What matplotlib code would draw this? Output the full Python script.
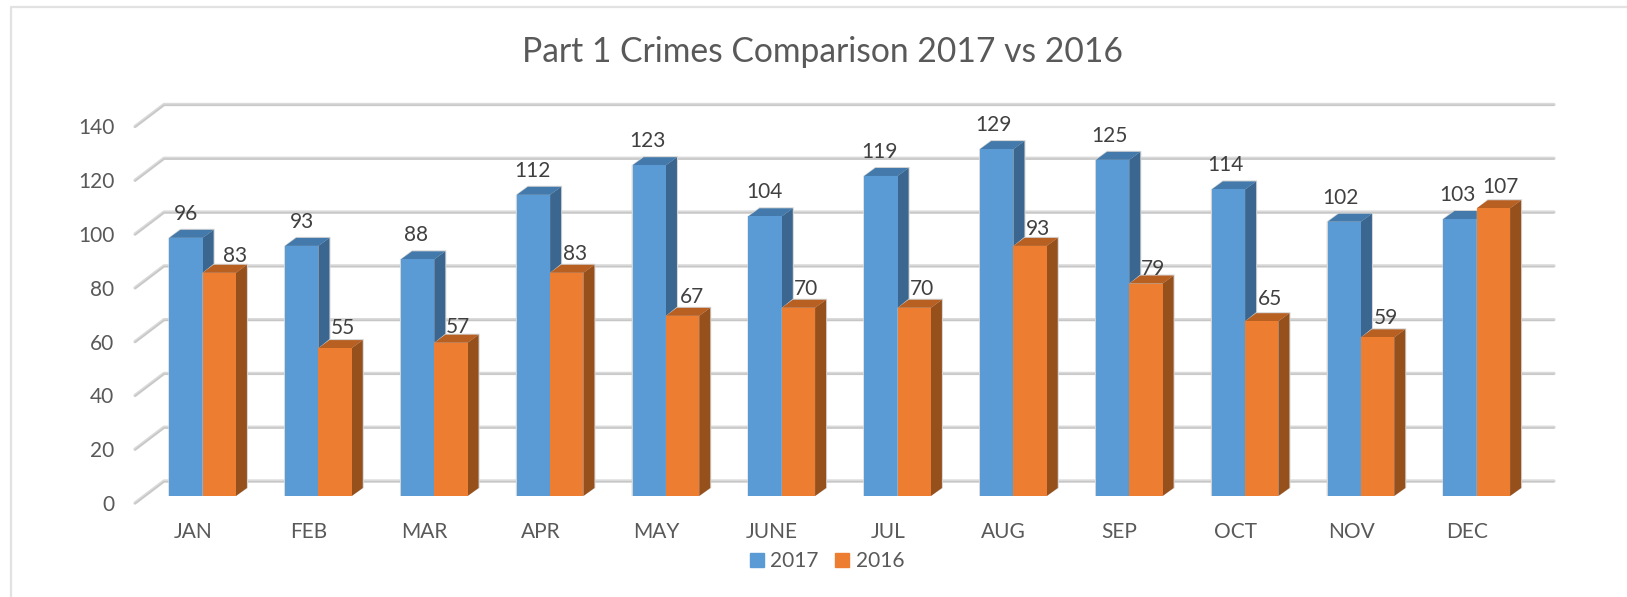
import matplotlib
matplotlib.use("Agg")
import matplotlib.pyplot as plt
from matplotlib.lines import Line2D
from matplotlib.patches import Patch, Polygon
from matplotlib.transforms import Affine2D

months = ["JAN", "FEB", "MAR", "APR", "MAY", "JUNE", "JUL", "AUG", "SEP", "OCT", "NOV", "DEC"]
values_2017 = [96, 93, 88, 112, 123, 104, 119, 129, 125, 114, 102, 103]
values_2016 = [83, 55, 57, 83, 67, 70, 70, 93, 79, 65, 59, 107]
y_ticks = [0, 20, 40, 60, 80, 100, 120, 140]

W, H = 1627, 597
plt.rcParams["font.family"] = ["Lato", "DejaVu Sans"]
fig = plt.figure(figsize=(W / 100, H / 100), dpi=100, facecolor="white")
L, R, B, T = 135, 1525, 503, 126.5
ax = fig.add_axes([L / W, 1 - B / H, (R - L) / W, (B - T) / H])
ax.set_xlim(-0.5, 11.5)
ax.set_ylim(0, 140)
ax.patch.set_visible(False)
ax.set_zorder(5)
for s in ax.spines.values():
    s.set_visible(False)

TXT = "#595959"
ax.set_xticks(range(len(months)), months)
ax.set_yticks(y_ticks)
ax.tick_params(axis="both", length=0, labelsize=15, labelcolor=TXT)
ax.tick_params(axis="x", pad=14)
ax.tick_params(axis="y", pad=15)

# gridlines: stub on the side wall, then along the back wall (two-tone)
BACK = (29, 22)
for v in y_ticks:
    x0, y0 = ax.transData.transform((-0.5, v))
    x1, _ = ax.transData.transform((11.5, v))
    xs = [x0, x0 + BACK[0], x1 + BACK[0]]
    ys = [y0, y0 + BACK[1], y0 + BACK[1]]
    fig.add_artist(Line2D(xs, ys, transform=None, color="#DADADA", lw=2.4,
                          solid_joinstyle="round", solid_capstyle="round", zorder=1))
    fig.add_artist(Line2D(xs, [y - 0.7 for y in ys], transform=None, color="#C6C6C6", lw=1.0,
                          solid_joinstyle="round", solid_capstyle="round", zorder=1.1))

# outer chart frame
fig.add_artist(Line2D([10.5, 10.5, W], [0, H - 6.5, H - 6.5], transform=None,
                      color="#E2E2E2", lw=1.6, zorder=0))

FRONT = (9.7, 7)      # front face offset from the axis plane, px
DEPTH = (11, 8)       # bar depth, px
HALO = 1.0            # soft shadow round each bar, px
BW = 0.2875
front_tr = ax.transData + Affine2D().translate(*FRONT)
inv = ax.transData.inverted()

for i, (a, b) in enumerate(zip(values_2017, values_2016)):
    for val, shift, front, top, side, z, left in (
            (a, -BW / 2, "#5B9BD5", "#437AAB", "#3A668F", 3 + i, HALO),
            (b, BW / 2, "#ED7D31", "#B85F22", "#96501C", 3.5 + i, 0)):
        (xl, yb), (xr, yt) = front_tr.transform([(i + shift - BW / 2, 0), (i + shift + BW / 2, val)])
        dx, dy = DEPTH
        sv = [(xr, yb), (xr + dx, yb + dy), (xr + dx, yt + dy), (xr, yt)]
        tv = [(xl, yt), (xl + dx, yt + dy), (xr + dx, yt + dy), (xr, yt)]
        hull = [(xl - left, yb), (xr, yb), (xr + dx + HALO, yb + dy), (xr + dx + HALO, yt + dy + HALO),
                (xl + dx, yt + dy + HALO), (xl - left, yt)]
        ax.add_patch(Polygon(inv.transform(hull), closed=True, facecolor="#D4D4D4", edgecolor="none",
                             zorder=z - 0.3, clip_on=False))
        ax.add_patch(Polygon(inv.transform(sv), closed=True, facecolor=side, edgecolor="none",
                             zorder=z - 0.2, clip_on=False))
        ax.add_patch(Polygon(inv.transform(tv), closed=True, facecolor=top, edgecolor="none",
                             zorder=z - 0.2, clip_on=False))
        ax.bar(i + shift, val, BW, color=front, transform=front_tr, zorder=z, clip_on=False)

# data labels, with the hand placement seen in the reference (px)
blue_nudge = [0, 0, -2, -1, -1.5, -1, -2, -3, -3, -3.5, -3.5, -3]
orange_nudge = [16, 7.5, 7, 8, 9, 8, 8, 8, 7, 8, 8, 7]
orange_rise = [17, 20, 16, 19, 19, 19, 19, 17, 15, 22, 19, 21]
for i, (a, b) in enumerate(zip(values_2017, values_2016)):
    for val, shift, nudge, rise in ((a, -BW / 2, blue_nudge[i], 24),
                                    (b, BW / 2, orange_nudge[i], orange_rise[i])):
        ax.annotate(str(val), (i + shift, val), xycoords=front_tr,
                    xytext=(nudge * 0.72, rise * 0.72), textcoords="offset points",
                    ha="center", va="center", fontsize=15, color="#404040", zorder=40,
                    annotation_clip=False)

fig.text(822 / W, 1 - 52 / H, "Part 1 Crimes Comparison 2017 vs 2016", ha="center", va="center",
         fontsize=24.2, color=TXT)

handles = [Patch(color="#5B9BD5", label="2017"), Patch(color="#ED7D31", label="2016")]
fig.legend(handles=handles, loc="center", bbox_to_anchor=(827 / W, 1 - 561 / H), ncol=2, frameon=False,
           fontsize=15, labelcolor=TXT, handlelength=0.68, handleheight=0.68, handletextpad=0.3,
           columnspacing=0.8, borderpad=0, borderaxespad=0)

fig.savefig("out.png", dpi=100, facecolor="white")
